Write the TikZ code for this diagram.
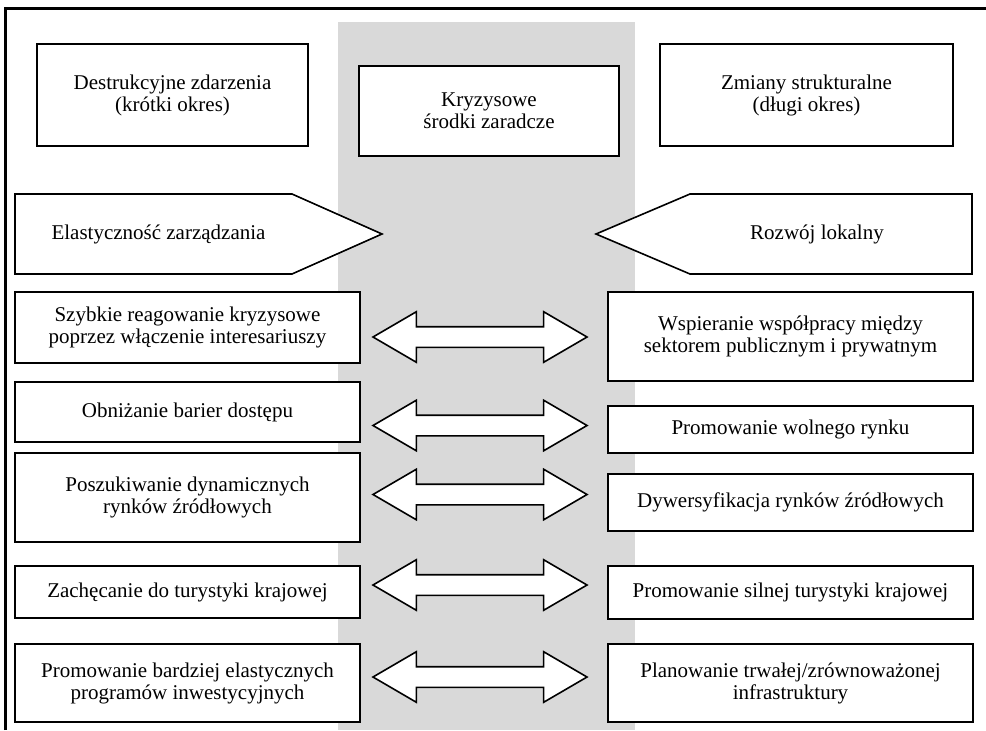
\documentclass[tikz,border=0pt]{standalone}
\usepackage{fontspec}
\setmainfont{Liberation Serif}
\usetikzlibrary{positioning,shapes.arrows,calc}
\tikzset{
  every box/.style={
    draw,
    fill=white,
    line width=0.8pt,
    align=center,
    inner sep=0pt,
    font=\fontsize{10.5}{11}\selectfont
  },
  head box/.style={
    every box,
    minimum height=51pt
  },
  left box/.style={
    every box,
    minimum width=172.5pt
  },
  right box/.style={
    every box,
    minimum width=182.5pt
  },
  link arrow/.style={
    double arrow,
    draw,
    fill=white,
    line width=0.8pt,
    inner xsep=0pt,
    inner ysep=4.75pt,
    minimum width=1pt,
    minimum height=107pt,
    double arrow head extend=7.5pt,
    double arrow tip angle=60.5
  },
  flow arrow/.style={
    draw,
    fill=white,
    line width=0.8pt
  },
  label/.style={
    font=\fontsize{10.5}{11}\selectfont
  }
}

\begin{document}
\begin{tikzpicture}[x=0.5pt,y=-0.5pt]
    \useasboundingbox (0,0) rectangle (986,730);
    \fill[black!15] (338,22) rectangle (635,730);
    \draw[line width=1.5pt] (5,730) -- (5,8) -- (986,8);

    \path{
      node[head box,minimum width=135.5pt] (dest) at (172.5,95) {Destrukcyjne zdarzenia\\(krótki okres)}
      node[head box,minimum width=146.5pt] (struct) at (806.5,95) {Zmiany strukturalne\\(długi okres)}
      node[every box,minimum width=130pt,minimum height=45pt] (crisis) at (489,111) {Kryzysowe\\środki zaradcze}
    };

    \draw[flow arrow] (15,194) -- (292,194) -- (382,234) -- (292,274) -- (15,274) -- cycle;
    \draw[flow arrow] (972,194) -- (690,194) -- (596,234) -- (690,274) -- (972,274) -- cycle;
    \node[label] (flex) at (158.5,234) {Elastyczność zarządzania};
    \node[label] (local) at (817,234) {Rozwój lokalny};

    \path{
      node[left box,minimum height=35.5pt] (l_1) at (187.5,327.5) {Szybkie reagowanie kryzysowe\\poprzez włączenie interesariuszy}
      node[left box,minimum height=30pt] (l_2) at (187.5,412) {Obniżanie barier dostępu}
      node[left box,minimum height=44.5pt] (l_3) at (187.5,497.5) {Poszukiwanie dynamicznych\\rynków źródłowych}
      node[left box,minimum height=26pt] (l_4) at (187.5,592) {Zachęcanie do turystyki krajowej}
      node[left box,minimum height=39pt] (l_5) at (187.5,683) {Promowanie bardziej elastycznych\\programów inwestycyjnych}
      node[right box,minimum height=44.5pt] (r_1) at (790.5,336.5) {Wspieranie współpracy między\\sektorem publicznym i prywatnym}
      node[right box,minimum height=23.5pt] (r_2) at (790.5,429.5) {Promowanie wolnego rynku}
      node[right box,minimum height=28.5pt] (r_3) at (790.5,502.5) {Dywersyfikacja rynków źródłowych}
      node[right box,minimum height=26.5pt] (r_4) at (790.5,592.5) {Promowanie silnej turystyki krajowej}
      node[right box,minimum height=39pt] (r_5) at (790.5,683) {Planowanie trwałej/zrównoważonej\\infrastruktury}
    };

    \path{
      node[link arrow] (a_1) at (480,337) {}
      node[link arrow] (a_2) at (480,425.5) {}
      node[link arrow] (a_3) at (480,494.5) {}
      node[link arrow] (a_4) at (480,585) {}
      node[link arrow] (a_5) at (480,677) {}
    };
  \end{tikzpicture}
\end{document}
